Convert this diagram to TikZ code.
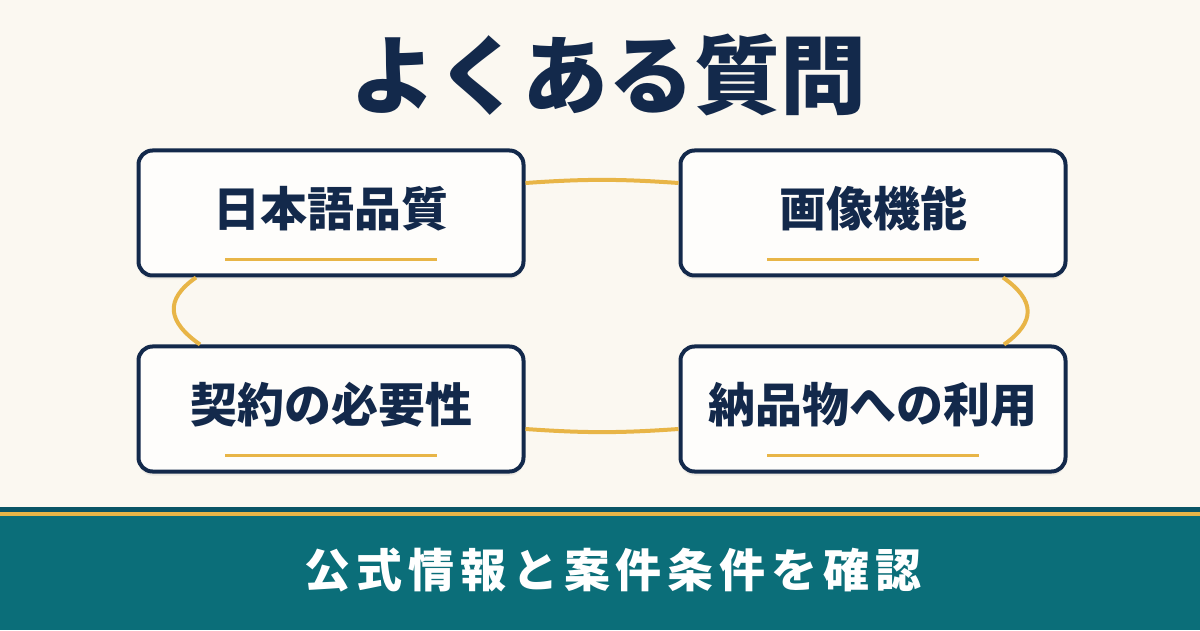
\documentclass[tikz,border=0pt]{standalone}
\usepackage{fontspec}
\usepackage{xcolor}
\usepackage{tikz}
\usetikzlibrary{shadows}
\newfontfamily\jpfont{Noto Sans CJK JP}
\definecolor{bgcream}{HTML}{FBF8F1}
\definecolor{navy}{HTML}{13294B}
\definecolor{gold}{HTML}{E8B547}
\definecolor{teal}{HTML}{0B6E79}
\definecolor{darkteal}{HTML}{0A5566}

\begin{document}
\begin{tikzpicture}[x=1pt,y=1pt,
	qbox/.style={draw=navy, line width=4pt, fill=white!70!bgcream, rounded corners=14pt,
		minimum width=385pt, minimum height=125pt, inner sep=0pt,
		drop shadow={opacity=0.12, shadow xshift=0pt, shadow yshift=-4pt}},
	qtext/.style={text=navy, font=\jpfont\bfseries\fontsize{47}{52}\selectfont},
	link/.style={draw=gold, line width=4pt}]
				\fill[bgcream] (0,0) rectangle (1200,630);
				\useasboundingbox (0,0) rectangle (1200,630);
				\node[text=navy, font=\jpfont\bfseries\fontsize{86}{92}\selectfont] (title) at (608,555) {よくある質問};
				
				\node[qbox] (q1) at (331,417) {};
				\node[qbox] (q2) at (873,417) {};
				\node[qbox] (q3) at (331,221) {};
				\node[qbox] (q4) at (873,221) {};
				
				% connectors between the boxes
				\draw[link] ([yshift=30pt]q1.east) to[bend left=4] ([yshift=30pt]q2.west);
				\draw[link] ([yshift=-20pt]q3.east) to[bend right=4] ([yshift=-20pt]q4.west);
				\draw[link] ([xshift=-135pt]q1.south) to[out=215,in=145,looseness=1.5] ([xshift=-131pt]q3.north);
				\draw[link] ([xshift=130pt]q2.south) to[out=-35,in=35,looseness=1.5] ([xshift=131pt]q4.north);
				
				\node[qtext] (t1) at ([yshift=4pt]q1.center) {日本語品質};
				\node[qtext] (t2) at ([yshift=4pt]q2.center) {画像機能};
				\node[qtext] (t3) at ([yshift=4pt]q3.center) {契約の必要性};
				\node[qtext] (t4) at ([yshift=4pt]q4.center) {納品物への利用};
				\foreach \q in {q1,q2,q3,q4}
					\draw[gold, line width=3.5pt] ([xshift=-106pt,yshift=18pt]\q.south) -- ([xshift=106pt,yshift=18pt]\q.south);
				
				% band at the bottom
				\fill[teal] (0,0) rectangle (1200,114);
				\fill[gold] (0,114) rectangle (1200,118);
				\fill[darkteal] (0,118) rectangle (1200,123);
				\node[text=white, font=\jpfont\bfseries\fontsize{46}{52}\selectfont\addfontfeature{LetterSpace=13}] (foot) at (613,60) {公式情報と案件条件を確認};
			\end{tikzpicture}
\end{document}
